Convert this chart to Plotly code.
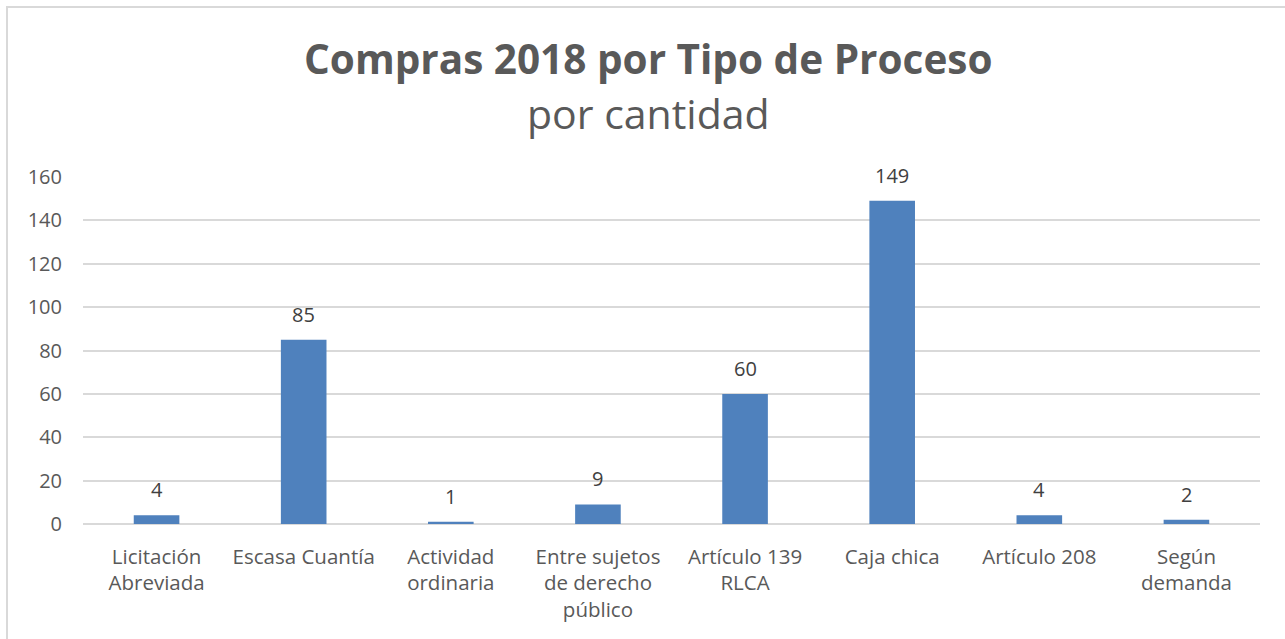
import plotly.graph_objects as go

categories = ["Licitación<br>Abreviada", "Escasa Cuantía", "Actividad<br>ordinaria",
              "Entre sujetos<br>de derecho<br>público", "Artículo 139<br>RLCA", "Caja chica",
              "Artículo 208", "Según<br>demanda"]
values = [4, 85, 1, 9, 60, 149, 4, 2]
y_ticks = [0, 20, 40, 60, 80, 100, 120, 140, 160]

FONT = "Open Sans, Liberation Sans, sans-serif"

fig = go.Figure(go.Bar(
    x=categories, y=values,
    marker=dict(color="#4f81bd", line=dict(width=0)),
    cliponaxis=False,
))

L, R, T, B = 83, 25, 177, 115
W, H = 1285, 639
pw, ph = W - L - R, H - T - B

annotations = [
    dict(text=str(v), x=c, y=v, xref="x", yref="y", xanchor="center", yanchor="bottom",
         yshift=10, showarrow=False, font=dict(family=FONT, size=20, color="#404040"))
    for c, v in zip(categories, values)
]
annotations += [
    dict(text="<b>Compras 2018 por Tipo de Proceso</b>", xref="paper", yref="paper",
         x=(648 - L) / pw, y=(H - B - 58) / ph, xanchor="center", yanchor="middle",
         showarrow=False, font=dict(family=FONT, size=40.5, color="#595959")),
    dict(text="por cantidad", xref="paper", yref="paper",
         x=(648 - L) / pw, y=(H - B - 113) / ph, xanchor="center", yanchor="middle",
         showarrow=False, font=dict(family=FONT, size=41, color="#595959")),
]

fig.update_layout(
    width=W, height=H,
    margin=dict(l=L, r=R, t=T, b=B),
    paper_bgcolor="white", plot_bgcolor="white",
    bargap=0.69,
    showlegend=False,
    font=dict(family=FONT, color="#595959"),
    xaxis=dict(showgrid=False, showline=False, ticks="", ticklabelstandoff=18,
               tickfont=dict(family=FONT, size=20.5, color="#595959")),
    yaxis=dict(range=[0, 160], tickvals=y_ticks, showgrid=True, gridcolor="#d9d9d9",
               gridwidth=1.5, zeroline=True, zerolinecolor="#d9d9d9", zerolinewidth=1.5,
               showline=False, ticks="", ticklabelstandoff=20,
               tickfont=dict(family=FONT, size=20, color="#595959")),
    annotations=annotations,
    shapes=[dict(type="rect", xref="paper", yref="paper",
                 x0=(7 - L) / pw, x1=(W + 20 - L) / pw,
                 y0=-(B + 20) / ph, y1=(H - B - 7) / ph,
                 line=dict(color="#d9d9d9", width=2), fillcolor="rgba(0,0,0,0)", layer="below")],
)

fig.write_html("out.html", config={"displayModeBar": False},
               post_script="document.body.style.margin='0';document.body.style.overflow='hidden';")
